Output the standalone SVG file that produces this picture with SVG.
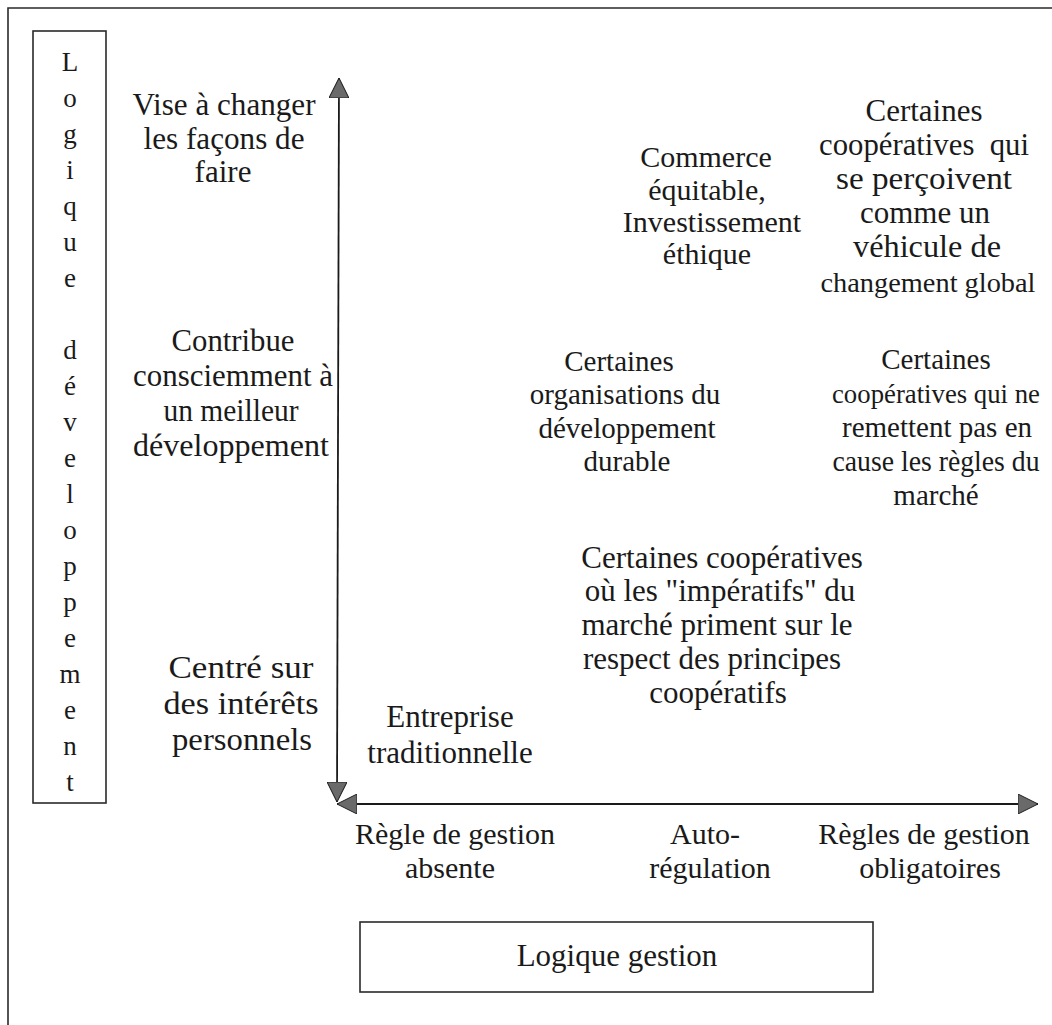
<svg xmlns="http://www.w3.org/2000/svg" width="1052" height="1025" viewBox="0 0 1052 1025">
  <defs>
    <style>
      text { font-family: 'Liberation Serif', 'DejaVu Serif', serif; font-size: 31px; fill: #1a1a1a; text-anchor: middle; }
      .frame { fill: none; stroke: #2a2a2a; stroke-width: 1.6; }
      .axis { fill: none; stroke: #1a1a1a; stroke-width: 1.8; }
      .letter { font-size: 27px; }
      .large { font-size: 32px; }
      .mid { font-size: 29px; }
      .scale { font-size: 30px; }
      .tight { font-size: 28px; }
    </style>
    <marker id="head" viewBox="0 0 20 20" refX="20" refY="10" markerWidth="20" markerHeight="20" markerUnits="userSpaceOnUse" orient="auto-start-reverse">
      <path d="M0,0 L20,10 L0,20 Z" fill="#6a6a6a" stroke="#222" stroke-width="1"/>
    </marker>
  </defs>

  <rect width="1052" height="1025" fill="#ffffff"/>

  <!-- page frame: only top and left edges are visible -->
  <path class="frame" d="M8,1025 L8,8 L1052,8"/>

  <!-- vertical axis title box, letters stacked -->
  <g id="axis-title-development">
    <rect class="frame" x="33" y="31" width="73" height="772"/>
    <text class="letter" x="70" y="71">L</text>
    <text class="letter" x="70" y="107">o</text>
    <text class="letter" x="70" y="143">g</text>
    <text class="letter" x="70" y="179">i</text>
    <text class="letter" x="70" y="215">q</text>
    <text class="letter" x="70" y="251">u</text>
    <text class="letter" x="70" y="287">e</text>
    <text class="letter" x="70" y="359">d</text>
    <text class="letter" x="70" y="395">é</text>
    <text class="letter" x="70" y="431">v</text>
    <text class="letter" x="70" y="467">e</text>
    <text class="letter" x="70" y="503">l</text>
    <text class="letter" x="70" y="539">o</text>
    <text class="letter" x="70" y="575">p</text>
    <text class="letter" x="70" y="611">p</text>
    <text class="letter" x="70" y="647">e</text>
    <text class="letter" x="70" y="683">m</text>
    <text class="letter" x="70" y="719">e</text>
    <text class="letter" x="70" y="755">n</text>
    <text class="letter" x="70" y="791">t</text>
  </g>

  <!-- horizontal axis title box -->
  <g id="axis-title-gestion">
    <rect class="frame" x="360" y="922" width="513" height="70"/>
    <text x="617" y="966" font-size="26">Logique gestion</text>
  </g>

  <!-- axes -->
  <g id="connectors">
    <path class="axis" d="M337,802 L339,78" marker-start="url(#head)" marker-end="url(#head)"/>
    <path class="axis" d="M337,804 L1038,804" marker-start="url(#head)" marker-end="url(#head)"/>
  </g>

  <!-- vertical axis levels -->
  <g id="level-change">
    <text x="224" y="115" textLength="183" lengthAdjust="spacingAndGlyphs">Vise à changer</text>
    <text x="224" y="149" textLength="161" lengthAdjust="spacingAndGlyphs">les façons de</text>
    <text x="223" y="182">faire</text>
  </g>
  <g id="level-contribue">
    <text x="233" y="351" textLength="123" lengthAdjust="spacingAndGlyphs">Contribue</text>
    <text x="233" y="386" textLength="200" lengthAdjust="spacingAndGlyphs">consciemment à</text>
    <text x="231" y="421" textLength="135" lengthAdjust="spacingAndGlyphs">un meilleur</text>
    <text x="231" y="456" textLength="196" lengthAdjust="spacingAndGlyphs">développement</text>
  </g>
  <g id="level-interets">
    <text class="large" x="241" y="678" textLength="145" lengthAdjust="spacingAndGlyphs">Centré sur</text>
    <text class="large" x="241" y="714" textLength="155" lengthAdjust="spacingAndGlyphs">des intérêts</text>
    <text class="large" x="242" y="750" textLength="140" lengthAdjust="spacingAndGlyphs">personnels</text>
  </g>

  <!-- horizontal axis levels -->
  <g id="rule-absente">
    <text class="scale" x="455" y="844">Règle de gestion</text>
    <text class="scale" x="450" y="878">absente</text>
  </g>
  <g id="rule-autoregulation">
    <text class="scale" x="705" y="844">Auto-</text>
    <text class="scale" x="710" y="878">régulation</text>
  </g>
  <g id="rule-obligatoires">
    <text class="scale" x="924" y="844">Règles de gestion</text>
    <text class="scale" x="930" y="878">obligatoires</text>
  </g>

  <!-- positioned organisations -->
  <g id="commerce-equitable">
    <text class="scale" x="706" y="167">Commerce</text>
    <text class="scale" x="707" y="200">équitable,</text>
    <text class="scale" x="712" y="232">Investissement</text>
    <text class="scale" x="707" y="264">éthique</text>
  </g>
  <g id="cooperatives-changement">
    <text x="924" y="121" textLength="117" lengthAdjust="spacingAndGlyphs">Certaines</text>
    <text x="924" y="155" textLength="210" lengthAdjust="spacingAndGlyphs">coopératives&#160; qui</text>
    <text x="924" y="189" textLength="176" lengthAdjust="spacingAndGlyphs">se perçoivent</text>
    <text x="925" y="223" textLength="130" lengthAdjust="spacingAndGlyphs">comme un</text>
    <text x="927" y="257" textLength="148" lengthAdjust="spacingAndGlyphs">véhicule de</text>
    <text class="tight" x="928" y="292" textLength="215" lengthAdjust="spacingAndGlyphs">changement global</text>
  </g>
  <g id="developpement-durable">
    <text class="mid" x="619" y="371">Certaines</text>
    <text class="mid" x="625" y="404">organisations du</text>
    <text class="mid" x="627" y="438">développement</text>
    <text class="mid" x="627" y="471">durable</text>
  </g>
  <g id="cooperatives-marche">
    <text class="mid" x="936" y="369">Certaines</text>
    <text class="tight" x="936" y="403" textLength="208" lengthAdjust="spacingAndGlyphs">coopératives qui ne</text>
    <text class="mid" x="937" y="437">remettent pas en</text>
    <text class="mid" x="936" y="471" textLength="207" lengthAdjust="spacingAndGlyphs">cause les règles du</text>
    <text class="mid" x="936" y="505">marché</text>
  </g>
  <g id="cooperatives-imperatifs">
    <text x="722" y="568">Certaines coopératives</text>
    <text x="720" y="601">où les "impératifs" du</text>
    <text x="717" y="635">marché priment sur le</text>
    <text x="712" y="669">respect des principes</text>
    <text x="718" y="703">coopératifs</text>
  </g>
  <g id="entreprise-traditionnelle">
    <text x="450" y="727">Entreprise</text>
    <text x="450" y="763">traditionnelle</text>
  </g>
</svg>
